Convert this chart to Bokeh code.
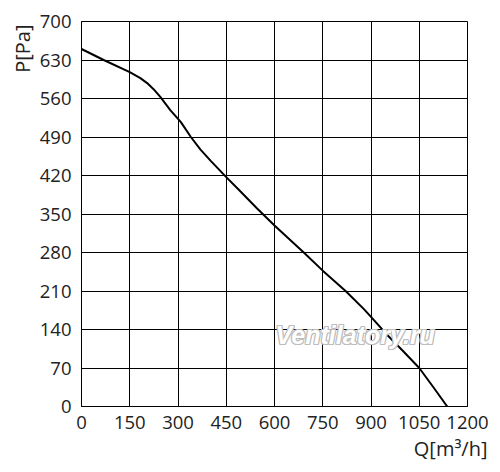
from bokeh.plotting import figure
from bokeh.models import Range1d, FixedTicker, Title, Label
from bokeh.embed import file_html
from bokeh.resources import INLINE

# Data
flow = [0, 69, 150, 183, 204, 224, 245, 276, 309, 340, 370, 401, 450, 489, 546, 600,
        691, 750, 821, 878, 900, 949, 1001, 1050, 1094, 1137]
pressure = [650, 630, 608, 597, 588, 577, 563, 539, 517, 490, 467, 447, 417, 394, 360, 329,
            280, 247, 210, 177, 163, 131, 100, 70, 35, 0]

x_ticks = [0, 150, 300, 450, 600, 750, 900, 1050, 1200]
y_ticks = [0, 70, 140, 210, 280, 350, 420, 490, 560, 630, 700]

FONT = "Open Sans"
TXT = "#222222"

p = figure(frame_width=386, frame_height=385, output_backend="svg", toolbar_location=None,
           x_range=Range1d(0, 1200), y_range=Range1d(0, 700),
           min_border_left=81, min_border_right=33, min_border_top=21,
           min_border_bottom=66)

p.xaxis.ticker = FixedTicker(ticks=x_ticks)
p.yaxis.ticker = FixedTicker(ticks=y_ticks)
for ax in (p.xaxis, p.yaxis):
    ax.major_tick_line_color = None
    ax.minor_tick_line_color = None
    ax.major_tick_out = 0
    ax.major_tick_in = 0
    ax.axis_line_color = "black"
    ax.major_label_text_font = FONT
    ax.major_label_text_font_size = "18.5px"
    ax.major_label_text_color = TXT
p.xaxis.major_label_standoff = 9
p.yaxis.major_label_standoff = 10

p.xgrid.ticker = FixedTicker(ticks=x_ticks)
p.ygrid.ticker = FixedTicker(ticks=y_ticks)
for g in (p.xgrid, p.ygrid):
    g.grid_line_color = "black"
    g.grid_line_alpha = 1.0
    g.grid_line_width = 1

p.outline_line_color = "black"
p.outline_line_width = 1
p.background_fill_color = "white"
p.border_fill_color = "white"

# watermark
wm_x, wm_y = 851, 104
for dx, dy in [(-1, 0), (1, 0), (0, -1), (0, 1), (-1, -1), (1, 1), (-1, 1), (1, -1)]:
    p.add_layout(Label(x=wm_x, y=wm_y, x_offset=dx, y_offset=dy, text="Ventilatory.ru",
                       text_font="Liberation Sans", text_font_style="bold italic",
                       text_font_size="25px", text_color="#bdbdbd", text_align="center"))
p.add_layout(Label(x=wm_x, y=wm_y, text="Ventilatory.ru",
                   text_font="Liberation Sans", text_font_style="bold italic",
                   text_font_size="25px", text_color="white", text_align="center"))

p.line(flow, pressure, line_color="black", line_width=2)

p.add_layout(Title(text="Q[m³/h]", align="right", text_font=FONT,
                   text_font_size="20px", text_font_style="normal",
                   text_color=TXT, standoff=2, offset=-20), "below")
p.add_layout(Title(text="P[Pa]", align="right", text_font=FONT,
                   text_font_size="20px", text_font_style="normal",
                   text_color=TXT, standoff=2, offset=3), "left")

open("out.html", "w").write(file_html(p, INLINE))
